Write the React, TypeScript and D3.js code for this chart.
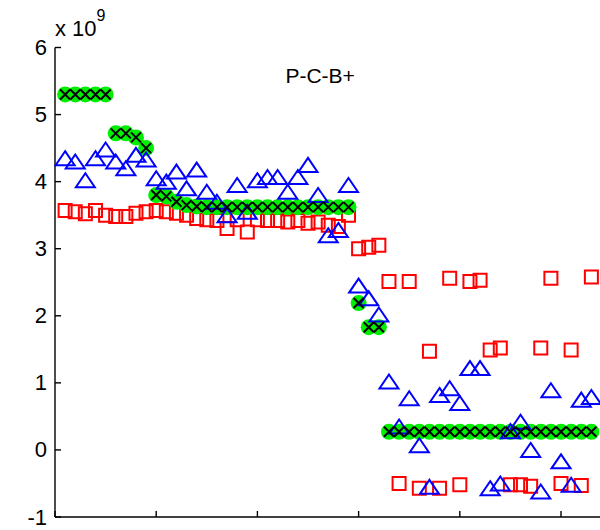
import * as d3 from 'd3';

// values are in units of 1e9, one point per index 1..53
const greenValues = [
  5.3, 5.3, 5.3, 5.3, 5.3, 4.72, 4.72, 4.66, 4.5, 3.8,
  3.78, 3.7, 3.65, 3.63, 3.62, 3.62, 3.62, 3.62, 3.62, 3.62,
  3.62, 3.62, 3.62, 3.62, 3.62, 3.62, 3.62, 3.62, 3.62, 2.19,
  1.83, 1.83, 0.27, 0.27, 0.27, 0.27, 0.27, 0.27, 0.27, 0.27,
  0.27, 0.27, 0.27, 0.27, 0.27, 0.27, 0.27, 0.27, 0.27, 0.27,
  0.27, 0.27, 0.27,
];

const redValues = [
  3.57, 3.55, 3.52, 3.57, 3.5, 3.48, 3.48, 3.53, 3.55, 3.57,
  3.55, 3.53, 3.5, 3.45, 3.43, 3.42, 3.3, 3.43, 3.25, 3.43,
  3.42, 3.42, 3.4, 3.42, 3.38, 3.4, 3.35, 3.33, 3.5, 3.0,
  3.02, 3.05, 2.51, -0.5, 2.51, -0.57, 1.47, -0.57, 2.56, -0.52,
  2.51, 2.53, 1.49, 1.52, -0.52, -0.52, -0.54, 1.52, 2.56, -0.5,
  1.49, -0.53, 2.58,
];

const blueValues = [
  4.35, 4.3, 4.02, 4.35, 4.48, 4.3, 4.2, 4.4, 4.33, 4.05,
  4.0, 4.15, 3.9, 4.18, 3.85, 3.7, 3.5, 3.95, 3.55, 4.02,
  4.07, 4.07, 3.85, 4.07, 4.25, 3.8, 3.2, 3.28, 3.95, 2.45,
  2.26, 2.02, 1.02, 0.35, 0.77, 0.07, -0.55, 0.82, 0.92, 0.7,
  1.22, 1.22, -0.57, -0.5, 0.28, 0.42, 0.0, -0.62, 0.89, -0.17,
  -0.52, 0.75, 0.79,
];

const yTicks = [-1, 0, 1, 2, 3, 4, 5, 6];
const xTicks = [0, 10, 20, 30, 40, 50];
const title = 'P-C-B+';

const W = 600;
const H = 530;
const font = '"Liberation Sans", Arial, Helvetica, sans-serif';

const App = () => {
  const x = d3.scaleLinear().domain([0, 54]).range([55, 601.5]);
  const y = d3.scaleLinear().domain([-1, 6]).range([517, 47.5]);

  const trianglePath = 'M0,-7L9.5,7L-9.5,7Z';
  const squarePath = 'M-6.5,-6.5H6.5V6.5H-6.5Z';
  const crossPath = 'M-5,-5L5,5M-5,5L5,-5';

  return (
    <svg
      width={W}
      height={H}
      style={{ position: 'absolute', left: 0, top: 0, background: '#fff' }}
      fontFamily={font}
    >
      <rect width={W} height={H} fill="#fff" />

      {/* axes */}
      <line x1={x(0)} x2={x(0)} y1={y(6)} y2={y(-1)} stroke="#000" strokeWidth={1.4} />
      <line x1={x(0)} x2={W} y1={y(-1)} y2={y(-1)} stroke="#000" strokeWidth={1.4} />
      {yTicks.map((t) => (
        <g key={'y' + t}>
          <line x1={x(0)} x2={x(0) + 6} y1={y(t)} y2={y(t)} stroke="#000" strokeWidth={1.4} />
          <text
            x={x(0) - 8}
            y={y(t)}
            textAnchor="end"
            dominantBaseline="central"
            fontSize={22}
            fill="#000"
          >
            {t}
          </text>
        </g>
      ))}
      {xTicks.map((t) => (
        <line key={'x' + t} x1={x(t)} x2={x(t)} y1={y(-1)} y2={y(-1) - 6} stroke="#000" strokeWidth={1.4} />
      ))}
      <text x={x(0)} y={36} fontSize={22} fill="#000">
        x 10
        <tspan fontSize={16} dy={-15}>9</tspan>
      </text>

      {/* red squares */}
      {redValues.map((v, i) => (
        <path
          key={'r' + i}
          d={squarePath}
          transform={`translate(${x(i + 1)},${y(v)})`}
          fill="none"
          stroke="#ff0000"
          strokeWidth={2}
        />
      ))}

      {/* green filled circles */}
      {greenValues.map((v, i) => (
        <circle key={'g' + i} cx={x(i + 1)} cy={y(v)} r={8} fill="#00ee00" />
      ))}

      {/* blue triangles */}
      {blueValues.map((v, i) => (
        <path
          key={'b' + i}
          d={trianglePath}
          transform={`translate(${x(i + 1)},${y(v)})`}
          fill="none"
          stroke="#0000ff"
          strokeWidth={2}
        />
      ))}

      {/* black crosses on the green series */}
      {greenValues.map((v, i) => (
        <path
          key={'k' + i}
          d={crossPath}
          transform={`translate(${x(i + 1)},${y(v)})`}
          fill="none"
          stroke="#000"
          strokeWidth={2}
        />
      ))}

      <text x={x(26.2)} y={83} textAnchor="middle" fontSize={21} fill="#000">
        {title}
      </text>
    </svg>
  );
};

export default App;
